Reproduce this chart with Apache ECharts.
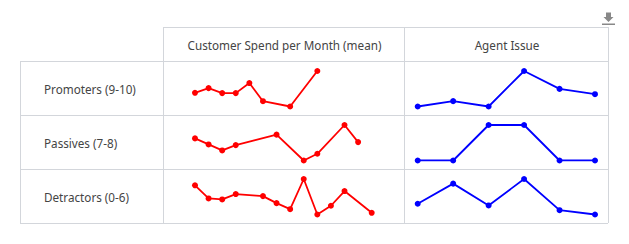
<!DOCTYPE html>
<html>
<head>
<meta charset="utf-8">
<script src="https://cdn.jsdelivr.net/npm/echarts@6/dist/echarts.min.js"></script>
<style>
html,body{margin:0;padding:0;background:#fff;}
#c{width:629px;height:244px;}
</style>
</head>
<body>
<div id="c"></div>
<script>
// ---- data ----
var rowLabels = ['Promoters (9-10)', 'Passives (7-8)', 'Detractors (0-6)'];
var columnTitles = ['Customer Spend per Month (mean)', 'Agent Issue'];
var spendPeriods = ['1','2','3','4','5','6','7','8','9','10','11','12','13','14'];
var agentPeriods = ['1','2','3','4','5','6'];
var spendPromoters  = [63.6, 68.3, 63.3, 63.3, 73.3, 55.3, null, 50.0, null, 85.3, null, null, null, null];
var spendPassives   = [72.0, 66.0, 60.0, 65.3, null, null, 75.7, null, 50.0, 56.7, null, 85.3, 68.3, null];
var spendDetractors = [79.0, 66.0, 65.0, 70.3, null, 68.3, 61.3, 55.3, 85.3, 50.0, 58.7, 73.3, null, 51.7];
var agentPromoters  = [50.0, 55.4, 50.0, 85.7, 67.7, 62.4];
var agentPassives   = [50.0, 50.0, 85.3, 85.3, 50.0, 50.0];
var agentDetractors = [60.7, 80.7, 59.0, 85.3, 54.3, 50.0];

var spendRows = [spendPromoters, spendPassives, spendDetractors];
var agentRows = [agentPromoters, agentPassives, agentDetractors];

// ---- layout ----
var rowTops = [61, 115, 169, 223];
var colX = [20, 163, 404, 608];
var headerTop = 27;
var lineColor = '#d3d6db';
var textColor = '#444';
var font = '"Noto Sans", "Open Sans", sans-serif';

var chart = echarts.init(document.getElementById('c'), null, {renderer: 'svg'});

var grids = [], xAxes = [], yAxes = [], series = [];
for (var r = 0; r < 3; r++) {
  var tp = rowTops[r] + 10;
  grids.push({left: 195, width: 176.7, top: tp, height: 35.5});
  grids.push({left: 417.7, width: 177.3, top: tp, height: 35.5});
}
for (var g = 0; g < 6; g++) {
  var isSpend = g % 2 === 0;
  var rr = Math.floor(g / 2);
  xAxes.push({type: 'category', gridIndex: g, data: isSpend ? spendPeriods : agentPeriods,
    boundaryGap: false, show: false});
  yAxes.push({type: 'value', gridIndex: g, min: 'dataMin', max: 'dataMax', show: false});
  series.push({
    type: 'line', xAxisIndex: g, yAxisIndex: g,
    data: isSpend ? spendRows[rr] : agentRows[rr],
    connectNulls: true,
    symbol: 'circle', symbolSize: 6, showSymbol: true,
    lineStyle: {width: 1.8, color: isSpend ? '#ff0000' : '#0000ff'},
    itemStyle: {color: isSpend ? '#ff0000' : '#0000ff'},
    silent: true
  });
}

var graphics = [];
function hline(x1, x2, y) {
  graphics.push({type: 'line', silent: true, shape: {x1: x1, y1: y, x2: x2, y2: y},
    style: {stroke: lineColor, lineWidth: 1}});
}
function vline(x, y1, y2) {
  graphics.push({type: 'line', silent: true, shape: {x1: x, y1: y1, x2: x, y2: y2},
    style: {stroke: lineColor, lineWidth: 1}});
}
hline(colX[1], colX[3], headerTop + 0.5);
for (var i = 0; i < rowTops.length; i++) hline(colX[0], colX[3], rowTops[i] + 0.5);
vline(colX[0] + 0.5, rowTops[0], rowTops[3]);
vline(colX[1] + 0.5, headerTop, rowTops[3]);
vline(colX[2] + 0.5, headerTop, rowTops[3]);
vline(colX[3] + 0.5, headerTop, rowTops[3]);

for (var c = 0; c < 2; c++) {
  graphics.push({type: 'text', silent: true,
    x: (colX[c + 1] + colX[c + 2]) / 2 + 1, y: (headerTop + rowTops[0]) / 2 + 1,
    style: {text: columnTitles[c], fill: textColor, font: '11.7px ' + font,
      align: 'center', verticalAlign: 'middle'}});
}
for (var k = 0; k < 3; k++) {
  graphics.push({type: 'text', silent: true,
    x: 44, y: (rowTops[k] + rowTops[k + 1]) / 2 + 1,
    style: {text: rowLabels[k], fill: textColor, font: '11.7px ' + font,
      align: 'left', verticalAlign: 'middle'}});
}
graphics.push({type: 'polygon', silent: true,
  shape: {points: [[606, 12.5], [611, 12.5], [611, 17], [613.5, 17], [608.5, 22], [603.5, 17], [606, 17]]},
  style: {fill: '#888'}});
graphics.push({type: 'rect', silent: true, shape: {x: 602, y: 23.5, width: 13, height: 1.5},
  style: {fill: '#888'}});

chart.setOption({
  animation: false,
  grid: grids, xAxis: xAxes, yAxis: yAxes, series: series,
  graphic: {elements: graphics}
});
</script>
</body>
</html>
